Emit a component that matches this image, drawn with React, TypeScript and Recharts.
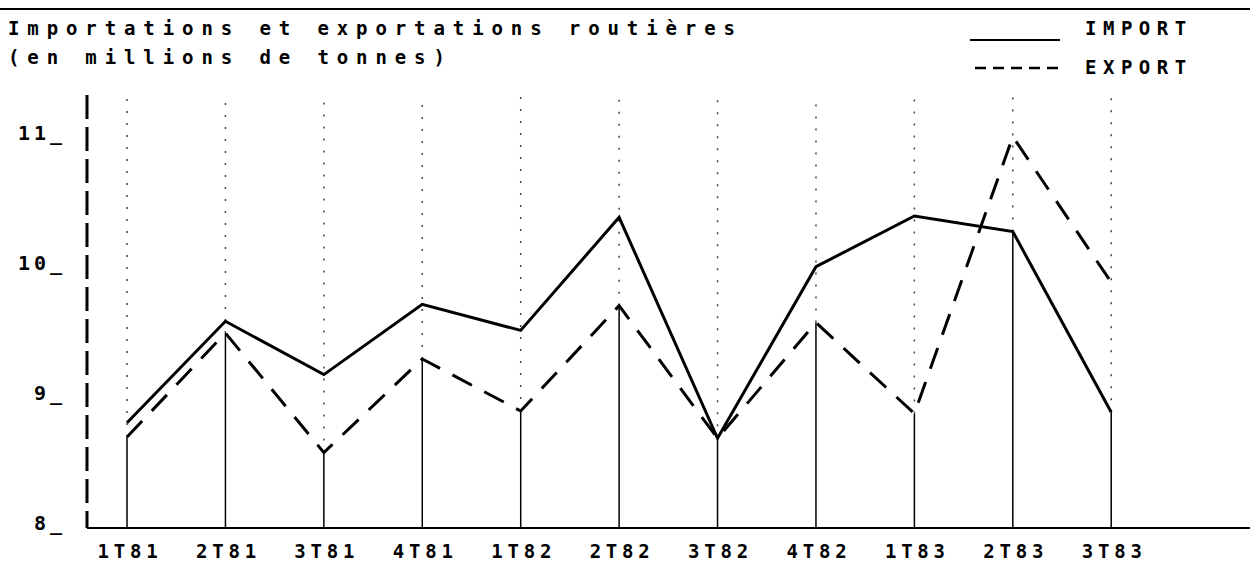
import React from 'react';
import { LineChart, Line, XAxis, YAxis, ReferenceLine } from 'recharts';

const categories = ['1T81', '2T81', '3T81', '4T81', '1T82', '2T82', '3T82', '4T82', '1T83', '2T83', '3T83'];
const importValues = [8.81, 9.59, 9.18, 9.72, 9.52, 10.39, 8.69, 10.01, 10.4, 10.28, 8.89];
const exportValues = [8.7, 9.5, 8.58, 9.3, 8.9, 9.71, 8.69, 9.58, 8.88, 11.01, 9.89];
const yTicks = [8, 9, 10, 11];
const titleLine1 = 'Importations et exportations routières';
const titleLine2 = '(en millions de tonnes)';
const legendImport = 'IMPORT';
const legendExport = 'EXPORT';

const data = categories.map((c, i) => ({ idx: i, cat: c, imp: importValues[i], exp: exportValues[i] }));

const FONT = '"DejaVu Sans Mono", "Liberation Mono", monospace';
const Y_MIN = 8;
const Y_MAX = 8 + 433 / 130;

const XTick = (props: any) => {
  const { x, y, payload } = props;
  return (
    <text x={x + 3} y={y + 22} textAnchor="middle" fontFamily={FONT} fontSize={19} fontWeight="bold" letterSpacing={4.8} fill="#000">
      {categories[payload.value]}
    </text>
  );
};

const YTick = (props: any) => {
  const { y, payload } = props;
  return (
    <text x={66} y={y + 2} textAnchor="end" fontFamily={FONT} fontSize={20} fontWeight="bold" letterSpacing={4} fill="#000">
      {payload.value + '_'}
    </text>
  );
};

export default function App() {
  return (
    <div style={{ position: 'absolute', left: 0, top: 0, width: 1250, height: 563, background: '#fff' }}>
      <LineChart width={1250} height={563} data={data} margin={{ top: 95, right: 0, bottom: 0, left: 0 }}>
        <XAxis
          type="number"
          dataKey="idx"
          domain={[-0.4065, 11.41]}
          ticks={categories.map((_, i) => i)}
          tick={<XTick />}
          tickLine={false}
          axisLine={{ stroke: '#000', strokeWidth: 2 }}
          height={35}
          interval={0}
          allowDataOverflow
        />
        <YAxis
          type="number"
          domain={[Y_MIN, Y_MAX]}
          ticks={yTicks}
          tick={<YTick />}
          tickLine={false}
          axisLine={{ stroke: '#000', strokeWidth: 3, strokeDasharray: '24 8' }}
          width={87}
          allowDataOverflow
        />
        {data.map((d) => (
          <ReferenceLine
            key={'up' + d.idx}
            segment={[{ x: d.idx, y: Math.min(d.imp, d.exp) }, { x: d.idx, y: Y_MAX }]}
            stroke="#444"
            strokeWidth={1.5}
            strokeDasharray="2 10"
            ifOverflow="visible"
          />
        ))}
        {data.map((d) => (
          <ReferenceLine
            key={'down' + d.idx}
            segment={[{ x: d.idx, y: Y_MIN }, { x: d.idx, y: Math.min(d.imp, d.exp) }]}
            stroke="#000"
            strokeWidth={1.5}
            ifOverflow="visible"
          />
        ))}
        <Line
          type="linear"
          dataKey="imp"
          stroke="#000"
          strokeWidth={3}
          dot={false}
          isAnimationActive={false}
        />
        <Line
          type="linear"
          dataKey="exp"
          stroke="#000"
          strokeWidth={3}
          strokeDasharray="22 14"
          dot={false}
          isAnimationActive={false}
        />
      </LineChart>
      <svg width={1250} height={100} style={{ position: 'absolute', left: 0, top: 0 }}>
        <line x1={0} y1={9} x2={1250} y2={9} stroke="#000" strokeWidth={2} />
        <text x={8} y={35} fontFamily={FONT} fontSize={19} fontWeight="bold" letterSpacing={7.9} fill="#000">
          {titleLine1}
        </text>
        <text x={8} y={64} fontFamily={FONT} fontSize={19} fontWeight="bold" letterSpacing={7.9} fill="#000">
          {titleLine2}
        </text>
        <line x1={970} y1={40} x2={1060} y2={40} stroke="#000" strokeWidth={2} />
        <text x={1085} y={35} fontFamily={FONT} fontSize={19} fontWeight="bold" letterSpacing={6.5} fill="#000">
          {legendImport}
        </text>
        <line x1={975} y1={68} x2={1062} y2={68} stroke="#000" strokeWidth={2.5} strokeDasharray="11 7" />
        <text x={1085} y={74} fontFamily={FONT} fontSize={19} fontWeight="bold" letterSpacing={6.5} fill="#000">
          {legendExport}
        </text>
      </svg>
    </div>
  );
}
